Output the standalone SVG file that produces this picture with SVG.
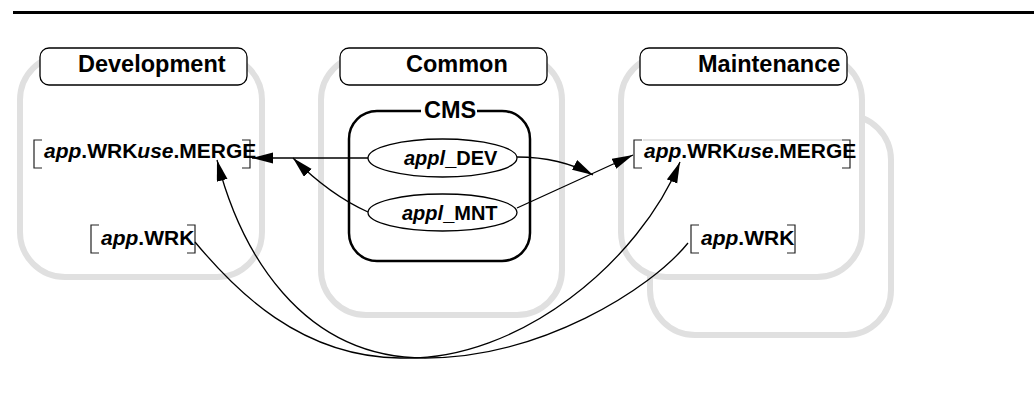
<svg xmlns="http://www.w3.org/2000/svg" width="1034" height="407" viewBox="0 0 1034 407">
<style>
.bg{fill:#fff;stroke:#e0e0e0;stroke-width:6}
.hdr{fill:#fff;stroke:#000;stroke-width:1.3}
.ht{font-family:"Liberation Sans",Arial,sans-serif;font-weight:bold;font-size:23.5px;fill:#000}
.lb{font-family:"Liberation Sans",Arial,sans-serif;font-weight:bold;font-size:21px;fill:#000}
.el{font-family:"Liberation Sans",Arial,sans-serif;font-weight:bold;font-size:20px;fill:#000}
.it{font-style:italic}
.br{fill:none;stroke:#222;stroke-width:1.2}
.ell{fill:#fff;stroke:#000;stroke-width:1.3}
.cn{fill:none;stroke:#000;stroke-width:1.3}
</style>
<defs>
<marker id="ah" markerUnits="userSpaceOnUse" markerWidth="22" markerHeight="12" refX="21" refY="5.5" orient="auto">
<path d="M0,0 L21,5.5 L0,11 z" fill="#000"/>
</marker>
</defs>
<rect width="1034" height="407" fill="#fff"/>
<line x1="13" y1="12.5" x2="1034" y2="12.5" stroke="#000" stroke-width="3"/>

<g id="development">
<rect class="bg" x="20" y="55" width="242" height="222" rx="45"/>
<rect class="hdr" x="40" y="48" width="207" height="37" rx="9"/>
<text class="ht" x="78" y="72">Development</text>
</g>
<g id="dev-merge">
<path class="br" d="M42,140 H34 V168 H42 M242,140 H250 V168 H242"/>
<text class="lb" x="44" y="158"><tspan class="it">app</tspan>.WRK<tspan class="it">use</tspan>.MERGE</text>
</g>
<g id="dev-wrk">
<path class="br" d="M99,225 H91 V253 H99 M187,225 H195 V253 H187"/>
<text class="lb" x="101" y="245" font-size="22px"><tspan class="it">app</tspan>.WRK</text>
</g>

<g id="common">
<rect class="bg" x="321" y="55" width="241" height="260" rx="45"/>
<rect class="hdr" x="340" y="48" width="207" height="37" rx="9"/>
<text class="ht" x="406" y="72">Common</text>
</g>
<g id="cms">
<rect x="349" y="111" width="181" height="150" rx="28" fill="#fff" stroke="#000" stroke-width="2.5"/>
<rect x="421" y="104" width="56" height="12" fill="#fff"/>
<text class="ht" x="424" y="118" font-size="22px">CMS</text>
</g>
<g id="appl-dev">
<ellipse class="ell" cx="442.5" cy="158" rx="74.5" ry="19"/>
<text class="el" x="404" y="165"><tspan class="it">appl</tspan>_DEV</text>
</g>
<g id="appl-mnt">
<ellipse class="ell" cx="442.5" cy="212.5" rx="74.5" ry="18.5"/>
<text class="el" x="402" y="219.5"><tspan class="it">appl</tspan>_MNT</text>
</g>

<g id="maintenance">
<rect class="bg" x="650" y="115" width="241" height="220" rx="45"/>
<rect class="bg" x="621" y="55" width="241" height="222" rx="45"/>
<rect class="hdr" x="640" y="48" width="207" height="37" rx="9"/>
<text class="ht" x="698" y="72">Maintenance</text>
</g>
<g id="mnt-merge">
<line x1="643" y1="140" x2="842" y2="140" stroke="#bbb" stroke-width="0.8"/>
<path class="br" d="M642,140 H634 V168 H642 M842,140 H850 V168 H842"/>
<text class="lb" x="644" y="158"><tspan class="it">app</tspan>.WRK<tspan class="it">use</tspan>.MERGE</text>
</g>
<g id="mnt-wrk">
<path class="br" d="M699,225 H691 V253 H699 M787,225 H795 V253 H787"/>
<text class="lb" x="701" y="245" font-size="22px"><tspan class="it">app</tspan>.WRK</text>
</g>

<g id="connectors">
<path class="cn" d="M368,158 L252,158" marker-end="url(#ah)"/>
<path class="cn" d="M368,212 Q330,195 293,158" marker-end="url(#ah)"/>
<path class="cn" d="M517,157 Q560,157 593,175" marker-end="url(#ah)"/>
<path class="cn" d="M517,208 L633,155" marker-end="url(#ah)"/>
<path class="cn" d="M195,242 C235,290 300,357 400,358 C520,362 640,260 680,162" marker-end="url(#ah)"/>
<path class="cn" d="M688,243 C650,290 540,358 425,358 C300,358 240,250 217,160" marker-end="url(#ah)"/>
</g>
</svg>
